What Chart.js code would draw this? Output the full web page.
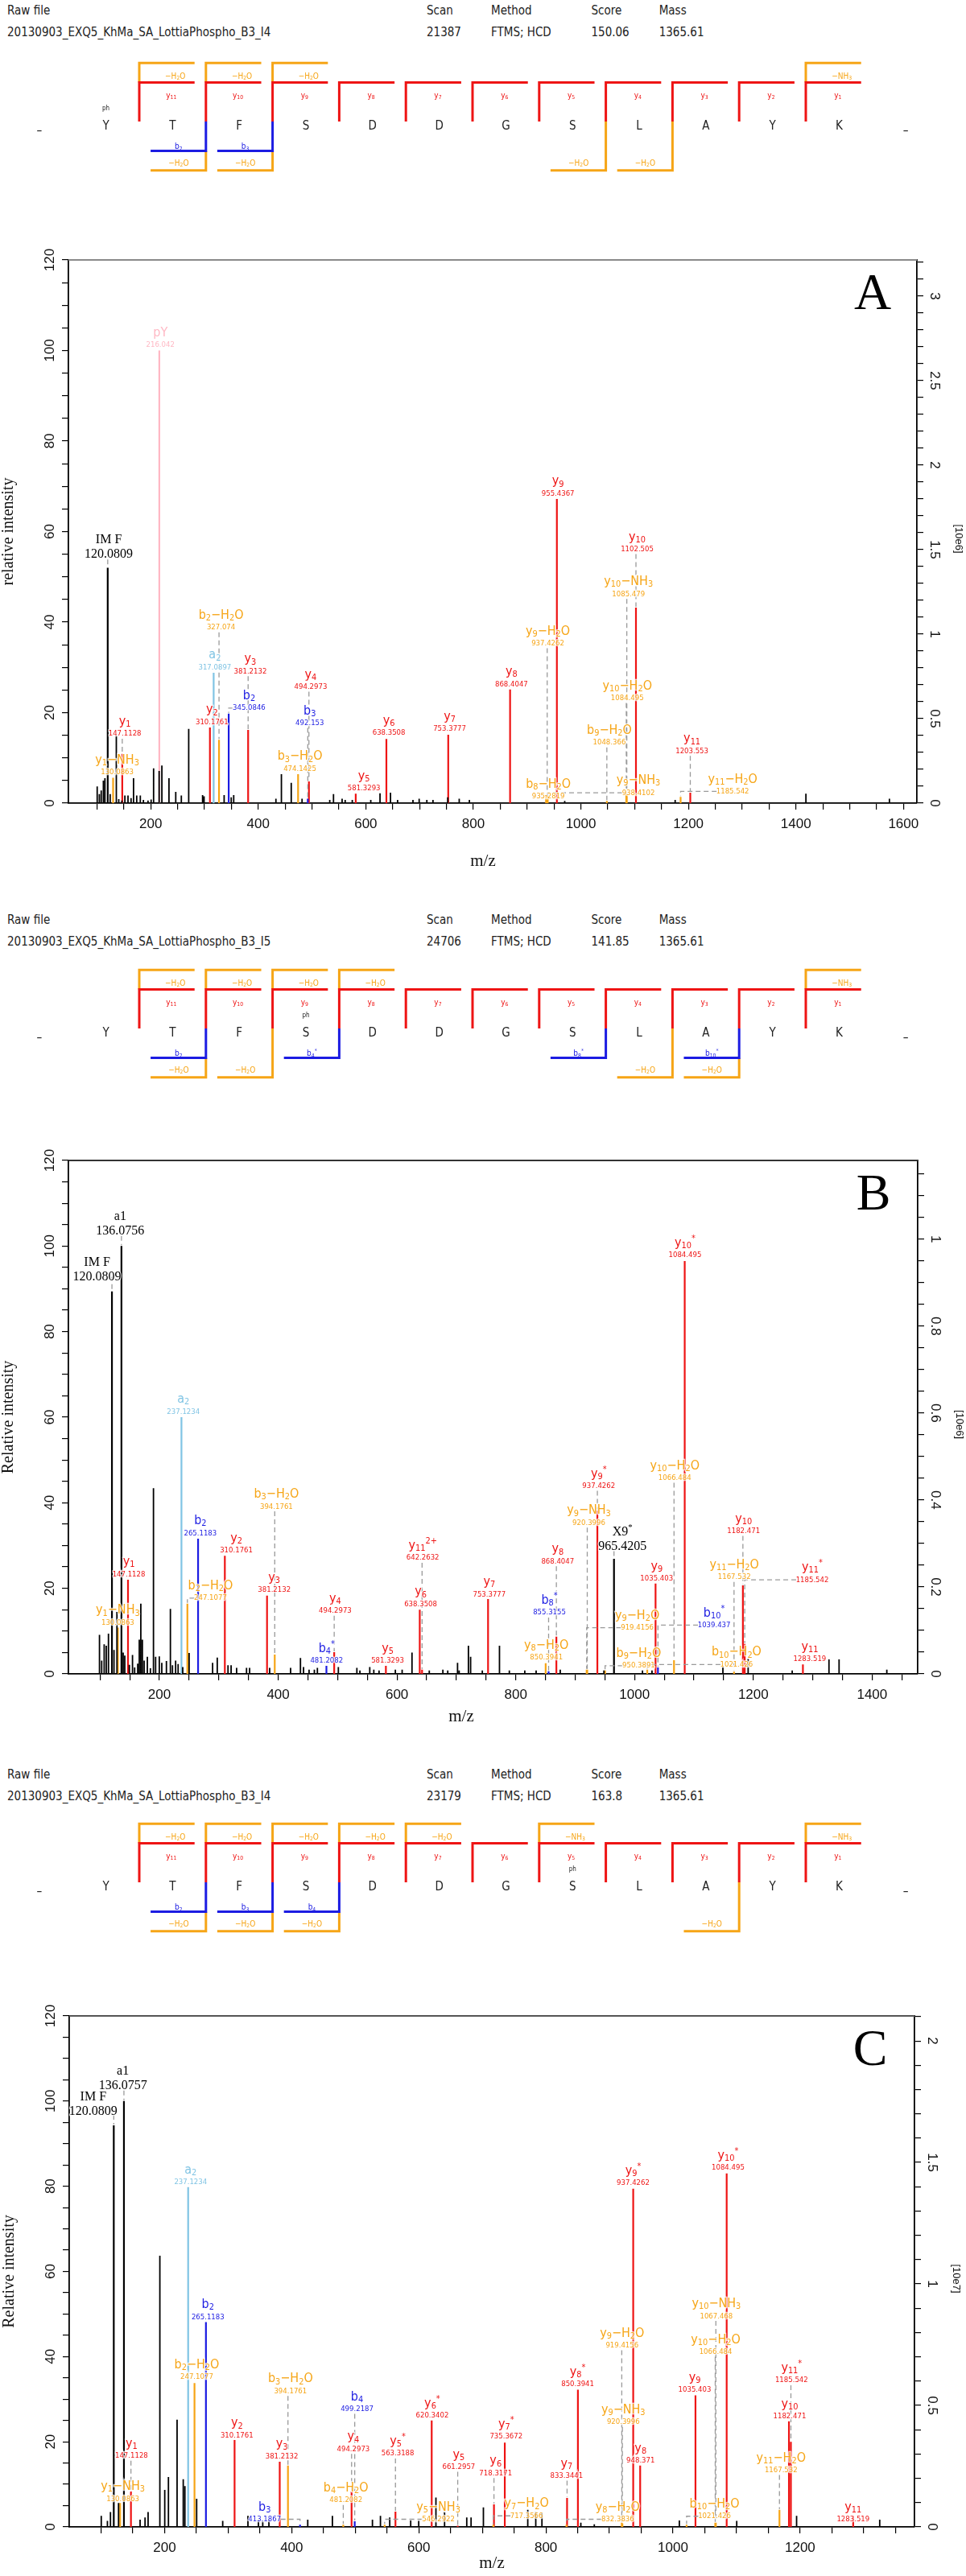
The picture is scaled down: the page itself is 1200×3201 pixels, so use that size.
<!DOCTYPE html>
<html>
<head>
<meta charset="utf-8">
<title>MS/MS spectra YTFSDDGSLAYK</title>
<script src="https://cdn.jsdelivr.net/npm/chart.js@4.4.1/dist/chart.umd.min.js"></script>
<style>
  body { margin: 0; background: #fff; }
  #page { position: relative; width: 1200px; height: 3201px; overflow: hidden; background: #fff;
          font-family: "DejaVu Sans Condensed", "Liberation Sans Narrow", "Open Sans", sans-serif; }
  .hdr { position: absolute; font-size: 15px; line-height: 18px; color: #222; white-space: nowrap; }
  canvas { position: absolute; left: 0; }
</style>
</head>
<body>
<div id="page"></div>
<script>
// ---------- header info ----------
const headLabels = ['Raw file', 'Scan', 'Method', 'Score', 'Mass'];
const rawFiles = ['20130903_EXQ5_KhMa_SA_LottiaPhospho_B3_I4', '20130903_EXQ5_KhMa_SA_LottiaPhospho_B3_I5', '20130903_EXQ5_KhMa_SA_LottiaPhospho_B3_I4'];
const scans = ['21387', '24706', '23179'];
const methods = ['FTMS; HCD', 'FTMS; HCD', 'FTMS; HCD'];
const scores = ['150.06', '141.85', '163.8'];
const masses = ['1365.61', '1365.61', '1365.61'];

// ---------- peptide ladder ----------
const residues = ['Y', 'T', 'F', 'S', 'D', 'D', 'G', 'S', 'L', 'A', 'Y', 'K'];
const aTopLoss = [1, 2, 3, 11];
const aTopLossName = ['−H_2O', '−H_2O', '−H_2O', '−NH_3'];
const aBCuts = [2, 3];
const aBName = ['b_2', 'b_3'];
const aBotLoss = [2, 3, 8, 9];
const aPhos = 0;

const bTopLoss = [1, 2, 3, 4, 11];
const bTopLossName = ['−H_2O', '−H_2O', '−H_2O', '−H_2O', '−NH_3'];
const bBCuts = [2, 4, 8, 10];
const bBName = ['b_2', 'b_4^*', 'b_8^*', 'b_10^*'];
const bBotLoss = [2, 3, 9, 10];
const bPhos = 3;

const cTopLoss = [1, 2, 3, 4, 5, 7, 11];
const cTopLossName = ['−H_2O', '−H_2O', '−H_2O', '−H_2O', '−H_2O', '−NH_3', '−NH_3'];
const cBCuts = [2, 3, 4];
const cBName = ['b_2', 'b_3', 'b_4'];
const cBotLoss = [2, 3, 4, 10];
const cPhos = 7;

// ---------- spectrum A ----------
const aPeakMz = [100.5,104.5,108,112,114.9,124.6,136.08,140.6,146.4,152,157.8,163.5,168.1,174,180.7,186.5,195,200.8,205.4,215.7,
  220.8,234,246.6,257,270.7,296.5,299.3,336.6,349.8,354.4,432.9,443.1,461.4,481.5,533,540,556,561.7,574.9,609.3,
  626.5,646,659.2,687.8,699.3,713.6,725,752.5,773.8,792.7,970,1175.4,1418.6,1573.9];
const aPeakInt = [3.7,2.0,2.8,5.0,5.5,2.0,15,0.9,0.6,1.7,1.7,1.1,5.5,1.7,1.7,0.7,0.6,0.8,7.7,7.1,
  8.3,5.5,2.5,1.7,16.4,1.8,1.5,1.8,1.3,1.8,1.0,6.4,4.5,1.0,0.7,2.0,1.0,0.7,0.7,0.7,
  2.2,2.3,0.7,0.7,1.0,0.7,0.7,1.3,1.0,0.7,0.5,0.7,2.1,1.0];
const aIonName = ['IM F','pY','y_1−NH_3','y_1','a_2','y_2','b_2−H_2O','b_2','y_3','b_3−H_2O','b_3','y_4','y_5','y_6','y_7','y_8',
  'b_8−H_2O','y_9−H_2O','y_9−NH_3','y_9','b_9−H_2O','y_10−H_2O','y_10−NH_3','y_10','y_11−H_2O','y_11'];
const aIonMz = [120.0809,216.042,130.0863,147.1128,317.0897,310.1761,327.074,345.0846,381.2132,474.1425,492.153,494.2973,581.3293,638.3508,753.3777,868.4047,
  935.2819,937.4262,938.4102,955.4367,1048.366,1084.495,1085.479,1102.505,1185.542,1203.553];
const aIonInt = [52,100,5.6,10.9,28.8,16.7,14,19.8,16.2,6.4,1,4.8,2.1,14.2,15.1,25.1,1.8,1.6,1.4,67.2,0.5,2.0,2.1,43.2,1.4,2.3];
const aIonKind = ['imm','pY','loss','y','a','y','loss','b','y','loss','b','y','y','y','y','y','loss','loss','loss','y','loss','loss','loss','y','loss','y'];
const aLabelMz = [122,218,137.7,152,319.3,314,330.8,383,385.3,477.5,495.8,497.6,596.7,643,756,871,939.5,938.6,1107,957.5,1053,1086.4,1088.6,1104.8,1282.4,1206.7];
const aLabelInt = [54.9,101.2,6.8,15.3,30,17.9,38.8,21,29.1,7.6,17.7,25.7,3.3,15.5,16.4,26.3,1.5,35.3,2.3,68.4,13.4,23.2,46.2,56.1,2.6,11.5];

// ---------- spectrum B ----------
const bPeakMz = [99.1,102.8,107,110.5,114.2,123.5,128.5,139,141.7,149.4,154.7,158.3,163.5,166.1,168.7,171.3,174.3,179.7,184.8,190,
  193.6,199.8,204,211.8,218.5,222,227.3,231.5,239.3,250,289.6,297.4,315.5,320.7,330,346.7,351.9,385.6,420.9,437.5,
  442.7,452,460.9,466,501.3,532.5,537.6,554.2,561,569.8,597.3,608.7,625.3,654.4,677.3,685.5,702,704.7,720.3,724,
  743.7,772.6,789.2,815.2,834.3,874.9,948.5,1013.4,1029.4,1148.8,1191.3,1265.5,1327.4,1344.4,1424.8];
const bPeakInt = [9.1,3.1,6.9,6.6,9.4,5.6,14.5,5.0,4.3,2.1,4.4,1.5,2.4,8,16.4,8,3.1,4,1.3,43.4,
  4,4.1,2.6,3,15.2,2,3.1,2.3,1.6,4.9,2.6,3.8,2,2,1.4,1.4,1.4,1.4,1.4,3.7,
  1.6,1,1,1.4,1.6,1.4,0.8,1.6,1,0.8,1,1,5,0.8,1,0.8,2.6,0.8,6.6,4,
  0.8,6.6,0.8,0.8,0.8,1,0.8,0.8,0.8,1.6,3.5,0.8,3.4,3.4,1];
const bIonName = ['IM F','a1','y_1−NH_3','y_1','a_2','b_2−H_2O','b_2','y_2','y_3','b_3−H_2O','b_4^*','y_4','y_5','y_6','y_11^2+','y_7',
  'y_8−H_2O','b_8^*','y_8','y_9−H_2O','y_9−NH_3','y_9^*','b_9−H_2O','X9^*','b_10−H_2O','y_9','b_10^*','y_10−H_2O','y_10^*','y_11−H_2O','y_10','y_11^*','y_11'];
const bIonMz = [120.0809,136.0756,130.0863,147.1128,237.1234,247.1077,265.1183,310.1761,381.2132,394.1761,481.2082,494.2973,581.3293,638.3508,642.2632,753.3777,
  850.3941,855.3155,868.4047,919.4156,920.3996,937.4262,950.3891,965.4205,1021.426,1035.403,1039.437,1066.484,1084.495,1167.532,1182.471,1185.542,1283.519];
const bIonInt = [89.4,100,10.8,22,60,16.4,31.6,27.6,18.3,4.5,1.9,5.1,1.9,15,1.0,17.5,2.5,0.6,8.7,1.0,1.0,38.2,0.8,26.9,1.0,21.1,1.5,3.2,96.5,0.5,20.7,7,2.2];
const bIonKind = ['imm','imm','loss','y','a','loss','b','y','y','loss','b','y','y','y','y','y','loss','b','y','loss','loss','y','loss','imm','loss','y','b','loss','y','loss','y','y','y'];
const bLabelMz = [95,134,130,148.5,240.3,286,268.9,329.5,393.4,397,481.6,496,584.3,639.9,643.4,755.5,851.5,856.7,870.6,1004.6,923.1,939.7,1007,979.7,1171.7,1037.3,1134,1067.8,1085,1168,1183.6,1299.3,1295];
const bLabelInt = [92.7,103.5,12,23.3,61.3,17.7,32.9,28.8,19.6,39.1,3.1,14.7,3.1,16.3,27.1,18.6,3.8,14.3,26.3,10.8,35.3,43.9,1.9,29.8,2.2,22.3,11.4,45.8,97.8,22.6,33.4,22,3.4];

// ---------- spectrum C ----------
const cPeakMz = [100.4,110.1,114.9,127.6,161.5,169.3,174.1,192.6,200.3,206.1,219.7,229.4,232,250.5,291.5,331.2,347.7,354.5,364.2,425.3,
  464.1,527.1,539.7,554.3,587.3,599.9,627,640.6,675.5,682.3,701.7,771.5,784.1,793.8,855,876.2,1010,1100.3,1194.5,1325.3];
const cPeakInt = [2.6,1.4,3.5,5.6,1.7,2.2,3.5,63.7,8.7,11.7,25.2,11.2,9.6,6.6,1.4,2.6,1.7,1.4,1.7,1.7,
  2.6,1.7,2.6,2.2,1.5,1.4,6.9,3.5,2.2,2.2,4.6,4.0,3.5,3.3,1.0,0.6,1.5,1.4,2.6,1.7];
const cIonName = ['IM F','a1','y_1−NH_3','y_1','a_2','b_2−H_2O','b_2','y_2','y_3','b_3−H_2O','b_3','b_4−H_2O','y_4','b_4','y_5−NH_3','y_5^*','y_6^*','y_5',
  'y_7−H_2O','y_6','y_7^*','y_8−H_2O','y_7','y_8^*','y_9−H_2O','y_9−NH_3','y_9^*','y_8','b_10−H_2O','y_9','y_10−H_2O','y_10−NH_3','y_10^*','y_11−H_2O','y_10','y_11^*','y_11'];
const cIonMz = [120.0809,136.0757,130.0863,147.1128,237.1234,247.1077,265.1183,310.1761,381.2132,394.1761,413.1867,481.2082,494.2973,499.2187,546.2922,563.3188,620.3402,661.2957,
  717.3566,718.3171,735.3672,832.3836,833.3441,850.3941,919.4156,920.3996,937.4262,948.371,1021.426,1035.403,1066.484,1067.468,1084.495,1167.532,1182.471,1185.542,1283.519];
const cIonInt = [94.3,100,5.6,8.3,79.8,33.8,48.1,20.4,15.3,14.4,0.5,0.5,8.3,1.3,0.5,3.6,25,0.3,0.5,5.3,19.8,0.5,6.8,32.2,1,0.8,79.4,14.4,0.5,30.9,1,1,83,4,24.8,20,2.6];
const cIonKind = ['imm','imm','loss','y','a','loss','b','y','y','loss','b','loss','y','b','loss','y','y','y','loss','y','y','loss','y','y','loss','loss','y','y','loss','y','loss','loss','y','loss','y','y','y'];
const cLabelMz = [87.8,134.4,134.4,148,241,250.7,268.2,313.8,384.5,398.1,357.4,485.4,497,502.9,630.9,566.9,621.2,662.9,769.6,721,737.5,913,832.6,850,919.9,921.8,937.3,949,1065.3,1034.2,1067.2,1068.2,1086.7,1170.1,1183.6,1186.6,1283.5];
const cLabelInt = [97.6,103.6,6.6,16.7,81,35.2,49.3,21.5,16.6,31.9,1.8,6.3,18.3,27.7,1.8,17.2,26.1,14.1,2.6,12.6,21.2,1.8,12,33.5,42.6,24.6,80.7,15.5,2.5,32.2,41.1,49.5,84.3,13.3,25.9,34.4,1.8];

// ---------- styles ----------
const SANS = '"DejaVu Sans Condensed", "Liberation Sans Narrow", "Open Sans", sans-serif';
const AXIS = '"Liberation Sans", Arial, sans-serif';
const SERIF = '"Liberation Serif", "Times New Roman", serif';
const COL = { y: 'rgb(238,20,20)', b: 'rgb(28,28,226)', a: 'rgb(128,196,228)', loss: 'rgb(246,165,22)', pY: 'rgb(255,184,196)', imm: '#000' };
Chart.defaults.font.family = AXIS;

const page = document.getElementById('page');

function addCanvas(top, h) {
    const c = document.createElement('canvas');
    c.width = 1200; c.height = h;
    c.style.top = top + 'px';
    c.style.width = '1200px'; c.style.height = h + 'px';
    page.appendChild(c);
    return c;
}

function addText(txt, x, cy) {
    const d = document.createElement('div');
    d.className = 'hdr';
    d.textContent = txt;
    d.style.left = x + 'px';
    d.style.top = (cy - 9) + 'px';
    page.appendChild(d);
}

// text with _sub and ^sup parts
function parseRich(s) {
    const out = [];
    let i = 0;
    while (i < s.length) {
        if (s[i] === '_' || s[i] === '^') {
            let j = i + 1;
            while (j < s.length && /[0-9+*]/.test(s[j])) j++;
            out.push({ t: s.slice(i + 1, j), m: s[i] });
            i = j;
        } else {
            let j = i;
            while (j < s.length && s[j] !== '_' && s[j] !== '^') j++;
            out.push({ t: s.slice(i, j), m: '' });
            i = j;
        }
    }
    return out;
}

function drawRich(ctx, s, x, y, size, family, color, halo) {
    const parts = parseRich(s);
    const fontFor = m => (m ? (size * 0.68).toFixed(1) : size) + 'px ' + family;
    let w = 0;
    parts.forEach(p => { ctx.font = fontFor(p.m); p.w = ctx.measureText(p.t).width; w += p.w; });
    let cx = x - w / 2;
    ctx.textAlign = 'left';
    ctx.textBaseline = 'middle';
    parts.forEach(p => {
        ctx.font = fontFor(p.m);
        const dy = p.m === '_' ? size * 0.22 : (p.m === '^' ? -size * 0.35 : 0);
        if (halo) {
            ctx.lineWidth = 2.5;
            ctx.strokeStyle = 'rgba(255,255,255,0.75)';
            ctx.strokeText(p.t, cx, y + dy);
        }
        ctx.fillStyle = color;
        ctx.fillText(p.t, cx, y + dy);
        cx += p.w;
    });
    return w;
}

// ---------- ladder ----------
const LV = { top: 3, topLab: 2.3, red: 2, yLab: 1.3, ph: 0.65, split: 0, res: -0.25, dash: -0.5, bLab: -1.3, b: -1.5, botLab: -2.15, bot: -2.5 };
const ARM = 0.83;

function ladderText(p) {
    return {
        id: 'ladderText',
        afterDatasetsDraw(chart) {
            const ctx = chart.ctx;
            const X = v => chart.scales.x.getPixelForValue(v);
            const Y = v => chart.scales.y.getPixelForValue(v);
            ctx.save();
            ctx.textAlign = 'center';
            ctx.textBaseline = 'middle';
            ctx.fillStyle = '#222';
            ctx.font = '15px ' + SANS;
            residues.forEach((r, i) => ctx.fillText(r, X(i), Y(LV.res)));
            [-1, residues.length].forEach(i => ctx.fillText('–', X(i), Y(LV.dash)));
            ctx.font = '8px ' + SANS;
            ctx.fillText('ph', X(p.phos), Y(LV.ph));
            for (let k = 1; k < residues.length; k++) {
                drawRich(ctx, 'y_' + (residues.length - k), X(k - 0.02), Y(LV.yLab), 10, SANS, COL.y);
            }
            p.topLoss.forEach((k, j) => drawRich(ctx, p.topLossName[j], X(k + 0.04), Y(LV.topLab), 10, SANS, COL.loss));
            p.bCuts.forEach((k, j) => drawRich(ctx, p.bName[j], X(k - 0.91), Y(LV.bLab), 10, SANS, COL.b));
            p.botLoss.forEach(k => drawRich(ctx, '−H_2O', X(k - 0.91), Y(LV.botLab), 10, SANS, COL.loss));
            ctx.restore();
        }
    };
}

function drawLadder(top, p) {
    const cv = addCanvas(top, 170);
    const cut = k => k - 0.5;
    const ds = [];
    const line = (pts, color) => ds.push({
        data: pts.map(([x, y]) => ({ x, y })),
        borderColor: color, borderWidth: 3, pointRadius: 0,
        borderCapStyle: 'butt', borderJoinStyle: 'miter', tension: 0
    });
    for (let k = 1; k < residues.length; k++) {
        line([[cut(k), LV.split], [cut(k), LV.red], [cut(k) + ARM, LV.red]], COL.y);
    }
    p.topLoss.forEach(k => line([[cut(k), LV.red], [cut(k), LV.top], [cut(k) + ARM, LV.top]], COL.loss));
    p.bCuts.forEach(k => line([[cut(k), LV.split], [cut(k), LV.b], [cut(k) - ARM, LV.b]], COL.b));
    p.botLoss.forEach(k => line([[cut(k), p.bCuts.includes(k) ? LV.b : LV.split], [cut(k), LV.bot], [cut(k) - ARM, LV.bot]], COL.loss));

    new Chart(cv, {
        type: 'line',
        data: { datasets: ds },
        options: {
            responsive: false, animation: false, events: [],
            layout: { padding: 0 },
            plugins: { legend: { display: false }, tooltip: { enabled: false } },
            scales: {
                x: { type: 'linear', display: false, bounds: 'data', min: -1.5894, max: 12.9034 },
                y: { type: 'linear', display: false, bounds: 'data', min: -3.25, max: 3.75 }
            }
        },
        plugins: [ladderText(p)]
    });
}

// ---------- spectrum ----------
function sticks(mzs, ints) {
    const d = [];
    mzs.forEach((m, i) => d.push({ x: m, y: 0 }, { x: m, y: ints[i] }, { x: m, y: null }));
    return d;
}

function spectrumDecor(p) {
    return {
        id: 'msDecor',
        afterDatasetsDraw(chart) {
            const ctx = chart.ctx, xs = chart.scales.x, ys = chart.scales.y, ca = chart.chartArea;
            ctx.save();
            // top frame line
            ctx.strokeStyle = p.frame; ctx.lineWidth = 2.2;
            ctx.beginPath(); ctx.moveTo(ca.left, ca.top); ctx.lineTo(ca.right, ca.top); ctx.stroke();

            // dashed connectors from labels to peaks
            ctx.setLineDash([6, 4]);
            ctx.strokeStyle = '#9a9a9a';
            ctx.lineWidth = 1.3;
            p.ionMz.forEach((mz, i) => {
                const lx = xs.getPixelForValue(p.labelMz[i]);
                const lv = ys.getPixelForValue(p.labelInt[i]);
                const px = xs.getPixelForValue(mz);
                const py = ys.getPixelForValue(p.ionInt[i]) - 1;
                const low = lv + 6;
                ctx.beginPath();
                if (Math.abs(px - lx) < 18) {
                    if (py - low > 6) { ctx.moveTo(px, low); ctx.lineTo(px, py); }
                } else {
                    const sx = lx + Math.sign(px - lx) * 20;
                    const hy = Math.min(lv, py);
                    ctx.moveTo(sx, hy); ctx.lineTo(px, hy);
                    if (py - hy > 2) ctx.lineTo(px, py);
                }
                ctx.stroke();
            });
            ctx.setLineDash([]);

            // peak labels
            p.ionName.forEach((name, i) => {
                const lx = xs.getPixelForValue(p.labelMz[i]);
                const lv = ys.getPixelForValue(p.labelInt[i]);
                const kind = p.ionKind[i];
                if (kind === 'imm') {
                    drawRich(ctx, name, lx, lv - 18, 16, SERIF, '#000', true);
                    drawRich(ctx, String(p.ionMz[i]), lx, lv, 16, SERIF, '#000', true);
                } else {
                    drawRich(ctx, name, lx, lv - 15, 16, SANS, COL[kind], true);
                    drawRich(ctx, String(p.ionMz[i]), lx, lv, 9.5, SANS, COL[kind], true);
                }
            });
            ctx.restore();
        },
        afterDraw(chart) {
            const ctx = chart.ctx, ys = chart.scales.y, y2 = chart.scales.y2, ca = chart.chartArea;
            ctx.save();
            ctx.fillStyle = '#111';
            ctx.textAlign = 'center';
            ctx.textBaseline = 'middle';
            ctx.font = '17px ' + AXIS;
            ys.ticks.forEach(t => {
                if (Math.abs(t.value % 20) > 1e-6) return;
                ctx.save();
                ctx.translate(ca.left - 23, ys.getPixelForValue(t.value));
                ctx.rotate(-Math.PI / 2);
                ctx.fillText(String(t.value), 0, 0);
                ctx.restore();
            });
            y2.ticks.forEach(t => {
                const r = t.value / p.rMajor;
                if (Math.abs(r - Math.round(r)) > 1e-6) return;
                ctx.save();
                ctx.translate(ca.right + 22, y2.getPixelForValue(t.value));
                ctx.rotate(Math.PI / 2);
                ctx.fillText(String(+t.value.toFixed(2)), 0, 0);
                ctx.restore();
            });
            const cy = (ca.top + ca.bottom) / 2;
            ctx.font = '20px ' + SERIF;
            ctx.save(); ctx.translate(ca.left - 74, cy); ctx.rotate(-Math.PI / 2); ctx.fillText(p.yTitle, 0, 0); ctx.restore();
            ctx.font = '13px ' + AXIS;
            ctx.save(); ctx.translate(ca.right + 52, cy + 9); ctx.rotate(Math.PI / 2); ctx.fillText(p.rUnit, 0, 0); ctx.restore();
            ctx.font = '21px ' + SERIF;
            ctx.fillText('m/z', p.mzX, ca.bottom + p.mzDy);
            ctx.font = '64px ' + SERIF;
            ctx.fillStyle = '#000';
            ctx.fillText(p.letter, ca.right - 55, ca.top + 44);
            ctx.restore();
        }
    };
}

function drawSpectrum(p) {
    const cv = addCanvas(p.canvasTop, p.canvasH);
    const ds = [{ data: sticks(p.peakMz, p.peakInt), borderColor: '#000', borderWidth: 1.8 }];
    ['loss', 'a', 'b', 'y', 'pY', 'imm'].forEach(k => {
        const idx = p.ionKind.map((kk, i) => (kk === k ? i : -1)).filter(i => i >= 0);
        if (!idx.length) return;
        ds.push({ data: sticks(idx.map(i => p.ionMz[i]), idx.map(i => p.ionInt[i])), borderColor: COL[k], borderWidth: 2.2 });
    });
    ds.forEach(d => Object.assign(d, { pointRadius: 0, borderCapStyle: 'butt', spanGaps: false, tension: 0, fill: false }));

    const tickGrid = { drawOnChartArea: false, drawTicks: true, tickLength: 8, color: '#000', lineWidth: 1.2 };
    const axisLine = { display: true, color: '#000', width: 1.8 };

    new Chart(cv, {
        type: 'line',
        data: { datasets: ds },
        options: {
            responsive: false, animation: false, events: [],
            layout: { padding: { top: p.padTop, left: 0, right: 0, bottom: 0 } },
            plugins: { legend: { display: false }, tooltip: { enabled: false } },
            scales: {
                x: {
                    type: 'linear', position: 'bottom', min: p.xMin, max: p.xMax,
                    afterBuildTicks: s => { s.min = p.xMin; s.max = p.xMax; s.ticks = s.ticks.filter(t => t.value >= 100 && t.value <= p.xMax); },
                    afterFit: s => { s.height = p.xAxisH; },
                    ticks: {
                        stepSize: 50, maxTicksLimit: 1000, autoSkip: false, maxRotation: 0, minRotation: 0, includeBounds: false,
                        padding: 8, color: '#111', font: { family: AXIS, size: 17 },
                        callback: v => (Math.round(v) % 200 === 0 ? String(Math.round(v)) : '')
                    },
                    grid: tickGrid, border: axisLine
                },
                y: {
                    type: 'linear', position: 'left', min: 0, max: 120,
                    afterBuildTicks: s => { s.min = 0; s.max = 120; },
                    afterFit: s => { s.width = p.left; },
                    ticks: { display: false, stepSize: 5, maxTicksLimit: 1000, includeBounds: false, autoSkip: false },
                    grid: tickGrid, border: axisLine
                },
                y2: {
                    type: 'linear', position: 'right', min: 0, max: p.rMax,
                    afterBuildTicks: s => { s.min = 0; s.max = p.rMax; },
                    afterFit: s => { s.width = 1200 - p.right; },
                    ticks: { display: false, stepSize: p.rStep, maxTicksLimit: 1000, includeBounds: false, autoSkip: false },
                    grid: tickGrid, border: axisLine
                }
            }
        },
        plugins: [spectrumDecor(p)]
    });
}

// ---------- build page ----------
const headerTop = [0, 1130, 2192];
const headerX = [9, 530, 610, 734.5, 818.7];
headerTop.forEach((off, i) => {
    headLabels.forEach((h, j) => addText(h, headerX[j], off + 13));
    [rawFiles[i], scans[i], methods[i], scores[i], masses[i]].forEach((v, j) => addText(v, headerX[j], off + 40));
});

drawLadder(60, { topLoss: aTopLoss, topLossName: aTopLossName, bCuts: aBCuts, bName: aBName, botLoss: aBotLoss, phos: aPhos });
drawLadder(1187, { topLoss: bTopLoss, topLossName: bTopLossName, bCuts: bBCuts, bName: bBName, botLoss: bBotLoss, phos: bPhos });
drawLadder(2248, { topLoss: cTopLoss, topLossName: cTopLossName, bCuts: cBCuts, bName: cBName, botLoss: cBotLoss, phos: cPhos });

drawSpectrum({
    canvasTop: 240, canvasH: 860, padTop: 83, xAxisH: 102, left: 85, right: 1139,
    xMin: 47, xMax: 1625, rMax: 3.214, rStep: 0.1, rMajor: 0.5, rUnit: '[10e6]',
    yTitle: 'relative intensity', letter: 'A', frame: '#8a8a8a', mzX: 600, mzDy: 72,
    peakMz: aPeakMz, peakInt: aPeakInt, ionName: aIonName, ionMz: aIonMz, ionInt: aIonInt, ionKind: aIonKind, labelMz: aLabelMz, labelInt: aLabelInt
});
drawSpectrum({
    canvasTop: 1360, canvasH: 820, padTop: 82, xAxisH: 100, left: 85, right: 1140,
    xMin: 46.8, xMax: 1476.8, rMax: 1.181, rStep: 0.05, rMajor: 0.2, rUnit: '[10e6]',
    yTitle: 'Relative intensity', letter: 'B', frame: '#333', mzX: 573, mzDy: 53,
    peakMz: bPeakMz, peakInt: bPeakInt, ionName: bIonName, ionMz: bIonMz, ionInt: bIonInt, ionKind: bIonKind, labelMz: bLabelMz, labelInt: bLabelInt
});
drawSpectrum({
    canvasTop: 2420, canvasH: 781, padTop: 85, xAxisH: 61, left: 86, right: 1136,
    xMin: 50, xMax: 1380, rMax: 2.103, rStep: 0.1, rMajor: 0.5, rUnit: '[10e7]',
    yTitle: 'Relative intensity', letter: 'C', frame: '#555', mzX: 611, mzDy: 45,
    peakMz: cPeakMz, peakInt: cPeakInt, ionName: cIonName, ionMz: cIonMz, ionInt: cIonInt, ionKind: cIonKind, labelMz: cLabelMz, labelInt: cLabelInt
});
</script>
</body>
</html>
